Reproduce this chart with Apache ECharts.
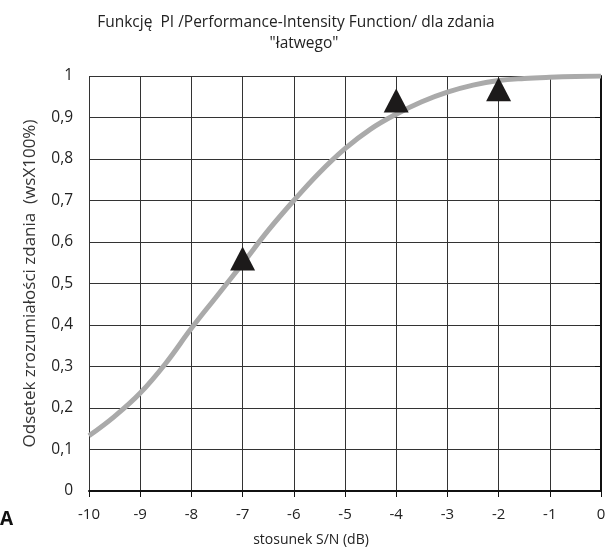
<!DOCTYPE html>
<html>
<head>
<meta charset="utf-8">
<script src="https://cdn.jsdelivr.net/npm/echarts@6/dist/echarts.min.js"></script>
<style>
  html, body { margin: 0; padding: 0; background: #fff; }
  #chart { width: 610px; height: 556px; }
</style>
</head>
<body>
<div id="chart"></div>
<script>
// krzywa PI
var snr = [-10, -9.5, -9, -8.5, -8, -7.5, -7, -6.5, -6, -5.5, -5, -4.5, -4, -3.5, -3, -2.5, -2, -1.5, -1, -0.5, 0];
var pi = [0.133, 0.180, 0.236, 0.308, 0.392, 0.470, 0.548, 0.628, 0.700, 0.767, 0.825, 0.872, 0.908, 0.938, 0.961, 0.978, 0.989, 0.994, 0.997, 0.999, 1.0];
// punkty pomiarowe (trójkąty)
var pointsX = [-7, -4, -2];
var pointsY = [0.56, 0.941, 0.968];

var xTicks = [-10, -9, -8, -7, -6, -5, -4, -3, -2, -1, 0];

var myChart = echarts.init(document.getElementById('chart'));

var fontFamily = '"Open Sans", "Noto Sans", sans-serif';

option = {
    animation: false,
    title: {
        text: 'Funkcję  PI /Performance-Intensity Function/ dla zdania    \n"łatwego"',
        left: 299,
        top: 7,
        textAlign: 'center',
        textStyle: {
            fontFamily: fontFamily,
            fontSize: 15.5,
            fontWeight: 'normal',
            color: '#222',
            lineHeight: 21
        }
    },
    grid: {
        left: 89,
        right: 9,
        top: 76,
        bottom: 65
    },
    xAxis: {
        type: 'value',
        min: -10,
        max: 0,
        interval: 1,
        name: 'stosunek S/N (dB)',
        nameLocation: 'middle',
        nameGap: 42,
        nameTextStyle: {
            fontFamily: fontFamily,
            fontSize: 14,
            color: '#222',
            padding: [0, 68, 0, 0]
        },
        axisLine: { onZero: false, lineStyle: { color: '#111', width: 2 } },
        axisTick: { show: true, length: 6, lineStyle: { color: '#111', width: 1 } },
        axisLabel: {
            fontFamily: fontFamily,
            fontSize: 15,
            color: '#222',
            margin: 16,
            formatter: function (v) { return xTicks.indexOf(v) >= 0 ? String(v) : ''; }
        },
        splitLine: { show: true, lineStyle: { color: '#333', width: 1 } }
    },
    yAxis: {
        type: 'value',
        min: 0,
        max: 1,
        interval: 0.1,
        name: 'Odsetek zrozumiałości zdania  (wsX100%)',
        nameLocation: 'middle',
        nameGap: 50,
        nameTextStyle: {
            fontFamily: fontFamily,
            fontSize: 17,
            color: '#333'
        },
        axisLine: { show: true, lineStyle: { color: '#111', width: 2 } },
        axisTick: { show: true, length: 6, lineStyle: { color: '#111', width: 1 } },
        axisLabel: {
            fontFamily: fontFamily,
            fontSize: 15.5,
            color: '#222',
            margin: 16,
            formatter: function (v) {
                var s = String(Math.round(v * 10) / 10);
                return s.replace('.', ',');
            }
        },
        splitLine: { show: true, lineStyle: { color: '#333', width: 1 } }
    },
    graphic: [
        {
            type: 'text',
            left: 0,
            top: 510,
            style: {
                text: 'A',
                font: 'bold 19px ' + fontFamily,
                fill: '#111'
            }
        }
    ],
    series: [
        {
            name: 'PI',
            type: 'line',
            smooth: 0.4,
            showSymbol: false,
            data: snr.map(function (x, i) { return [x, pi[i]]; }),
            lineStyle: { color: '#aaaaaa', width: 5 },
            z: 2
        },
        {
            name: 'pomiary',
            type: 'scatter',
            symbol: 'triangle',
            symbolSize: [25, 24],
            data: pointsX.map(function (x, i) { return [x, pointsY[i]]; }),
            itemStyle: { color: '#1c1a1a', opacity: 1 },
            z: 3
        }
    ]
};
myChart.setOption(option);
</script>
</body>
</html>
